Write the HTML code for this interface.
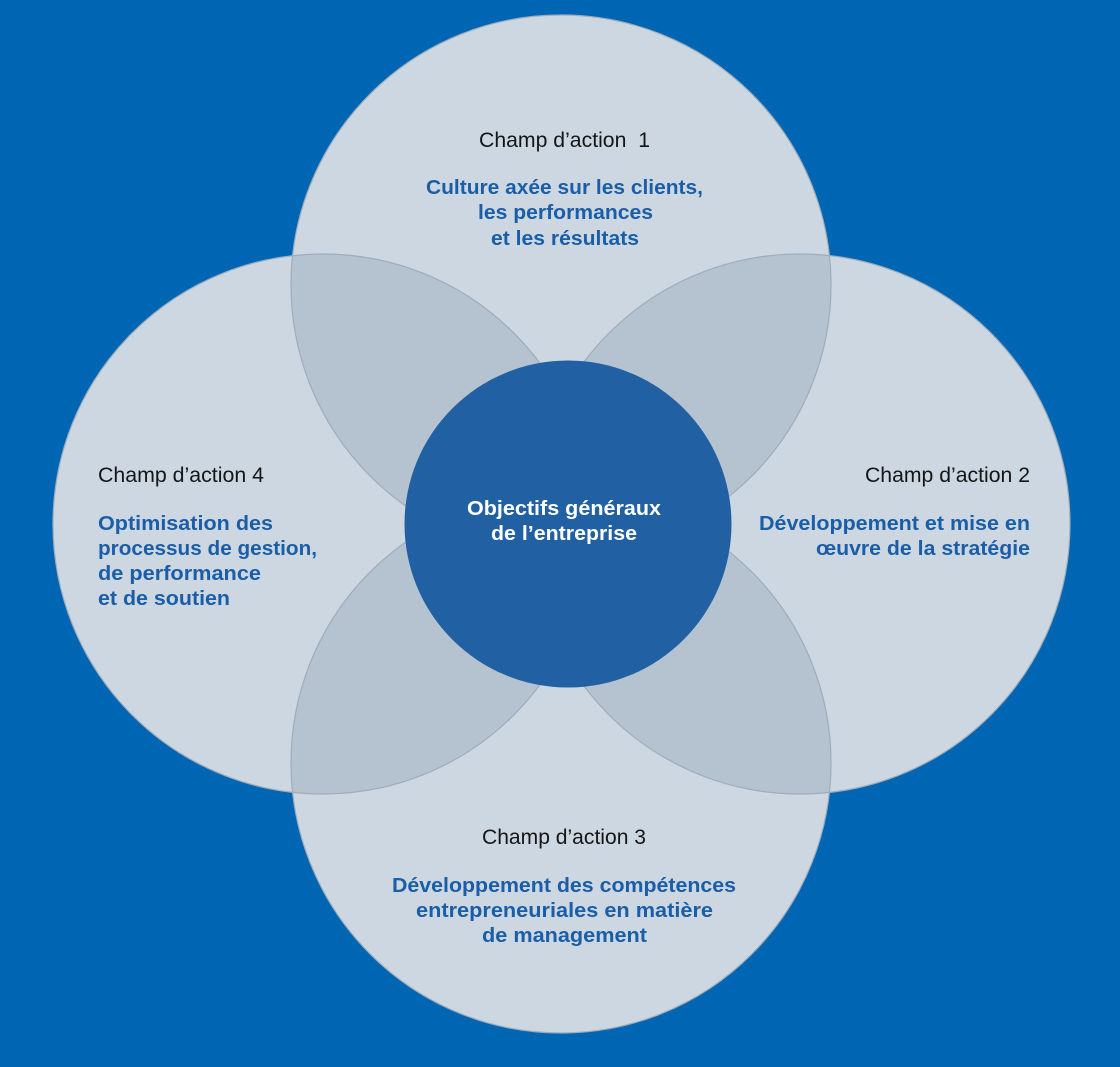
<!DOCTYPE html>
<html>
<head>
<meta charset="utf-8">
<style>
  html,body{margin:0;padding:0;background:#0066b4;}
  svg{display:block;}
  .blk{font-family:"Liberation Sans",sans-serif;font-size:21px;fill:#151515;}
  .blu{font-family:"Liberation Sans",sans-serif;font-size:20px;font-weight:bold;fill:#1a5ea8;}
  .wht{font-family:"Liberation Sans",sans-serif;font-size:20px;font-weight:bold;fill:#ffffff;}
</style>
</head>
<body>
<svg width="1120" height="1067" viewBox="0 0 1120 1067" xmlns="http://www.w3.org/2000/svg">
  <defs>
    <clipPath id="cT"><circle cx="561" cy="285" r="270"/></clipPath>
    <clipPath id="cB"><circle cx="561" cy="763" r="270"/></clipPath>
  </defs>
  <rect x="0" y="0" width="1120" height="1067" fill="#0066b4"/>

  <!-- base circles -->
  <circle cx="561" cy="285" r="270" fill="#cdd7e1"/>
  <circle cx="323" cy="524" r="270" fill="#cdd7e1"/>
  <circle cx="800" cy="524" r="270" fill="#cdd7e1"/>
  <circle cx="561" cy="763" r="270" fill="#cdd7e1"/>

  <!-- overlaps -->
  <g clip-path="url(#cT)">
    <circle cx="323" cy="524" r="270" fill="#b5c2cf"/>
    <circle cx="800" cy="524" r="270" fill="#b5c2cf"/>
  </g>
  <g clip-path="url(#cB)">
    <circle cx="323" cy="524" r="270" fill="#b5c2cf"/>
    <circle cx="800" cy="524" r="270" fill="#b5c2cf"/>
  </g>

  <!-- outlines -->
  <g fill="none" stroke="#9fadbb" stroke-width="1.2">
    <circle cx="561" cy="285" r="270"/>
    <circle cx="323" cy="524" r="270"/>
    <circle cx="800" cy="524" r="270"/>
    <circle cx="561" cy="763" r="270"/>
  </g>

  <!-- center -->
  <circle cx="568" cy="524" r="163.5" fill="#2160a2"/>

  <!-- top -->
  <text class="blk" x="479" y="147" textLength="171" lengthAdjust="spacingAndGlyphs">Champ d’action&#160; 1</text>
  <text class="blu" x="426" y="194" textLength="277" lengthAdjust="spacingAndGlyphs">Culture axée sur les clients,</text>
  <text class="blu" x="478" y="219" textLength="175" lengthAdjust="spacingAndGlyphs">les performances</text>
  <text class="blu" x="491" y="245" textLength="148" lengthAdjust="spacingAndGlyphs">et les résultats</text>

  <!-- left -->
  <text class="blk" x="98" y="482" textLength="166" lengthAdjust="spacingAndGlyphs">Champ d’action 4</text>
  <text class="blu" x="98" y="530" textLength="175" lengthAdjust="spacingAndGlyphs">Optimisation des</text>
  <text class="blu" x="98" y="555" textLength="219" lengthAdjust="spacingAndGlyphs">processus de gestion,</text>
  <text class="blu" x="98" y="580" textLength="163" lengthAdjust="spacingAndGlyphs">de performance</text>
  <text class="blu" x="98" y="605" textLength="132" lengthAdjust="spacingAndGlyphs">et de soutien</text>

  <!-- right -->
  <text class="blk" x="865" y="482" textLength="165" lengthAdjust="spacingAndGlyphs">Champ d’action 2</text>
  <text class="blu" x="759" y="530" textLength="271" lengthAdjust="spacingAndGlyphs">Développement et mise en</text>
  <text class="blu" x="816" y="555" textLength="214" lengthAdjust="spacingAndGlyphs">œuvre de la stratégie</text>

  <!-- bottom -->
  <text class="blk" x="482" y="844" textLength="164" lengthAdjust="spacingAndGlyphs">Champ d’action 3</text>
  <text class="blu" x="392" y="892" textLength="344" lengthAdjust="spacingAndGlyphs">Développement des compétences</text>
  <text class="blu" x="416" y="917" textLength="297" lengthAdjust="spacingAndGlyphs">entrepreneuriales en matière</text>
  <text class="blu" x="482" y="942" textLength="165" lengthAdjust="spacingAndGlyphs">de management</text>

  <!-- center text -->
  <text class="wht" x="467" y="515" textLength="194" lengthAdjust="spacingAndGlyphs">Objectifs généraux</text>
  <text class="wht" x="491" y="540" textLength="146" lengthAdjust="spacingAndGlyphs">de l’entreprise</text>
</svg>
</body>
</html>
